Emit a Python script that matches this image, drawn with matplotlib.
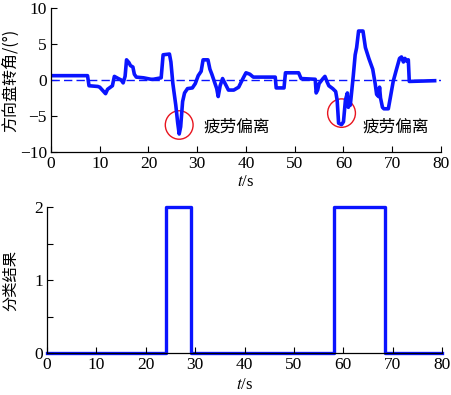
import matplotlib
matplotlib.use("Agg")
import matplotlib.pyplot as plt
from matplotlib.patches import Ellipse

# steering wheel angle trace
t_angle = [0, 7.5, 7.8, 9.6, 10.0, 10.8, 11.2, 11.6, 12.2, 12.6, 13.0, 13.8, 14.4, 14.8,
           15.2, 15.5, 16.0, 16.3, 16.8, 17.1, 17.5, 19.0, 20.5, 21.0, 22.6, 23.0, 24.3,
           24.6, 25.0, 25.6, 26.0, 26.3, 26.6, 27.0, 27.4, 28.0, 29.0, 29.6, 30.2, 30.8,
           31.2, 32.2, 32.6, 33.0, 33.6, 34.0, 34.3, 34.7, 35.2, 35.8, 36.4, 37.5, 38.5,
           39.3, 40.0, 40.8, 41.5, 42.5, 46.0, 46.2, 47.8, 48.1, 50.8, 51.3, 54.2, 54.4,
           54.7, 55.0, 55.8, 56.2, 56.6, 57.0, 57.8, 58.4, 58.7, 59.0, 59.6, 60.0, 60.4,
           60.8, 61.0, 61.2, 61.4, 61.7, 62.0, 62.4, 62.7, 63.1, 64.0, 64.5, 65.2, 66.0,
           66.5, 66.8, 67.2, 67.4, 67.6, 68.0, 68.3, 69.2, 69.6, 70.2, 70.8, 71.5, 71.9,
           72.3, 72.6, 73.0, 73.3, 73.5, 78.7]
angle = [0.6, 0.6, -0.8, -0.9, -1.0, -1.6, -1.9, -1.3, -1.0, -0.8, 0.5, 0.2, 0.0, -0.4,
         0.5, 2.8, 2.4, 2.0, 1.8, 0.8, 0.4, 0.3, 0.1, 0.1, 0.3, 3.5, 3.6,
         2.5, -0.5, -3.5, -6.0, -7.5, -6.5, -3.0, -1.8, -1.2, -1.1, -0.5, 0.6, 1.2,
         2.8, 2.8, 1.5, 0.8, -0.4, -1.2, -2.3, -0.8, 0.2, -0.6, -1.4, -1.4, -1.0,
         0.1, 1.0, 0.8, 0.4, 0.4, 0.4, -1.1, -1.1, 1.0, 1.0, 0.2, 0.1, -1.8,
         -1.4, -0.5, 0.2, 0.5, -0.2, -0.8, -1.2, -1.6, -2.8, -6.0, -6.2, -5.8, -2.8,
         -1.8, -3.8, -3.2, -3.5, -1.5, 0.5, 3.5, 4.5, 6.8, 6.8, 4.5, 3.0, 1.5,
         -0.5, -2.0, -2.3, -1.0, -2.5, -3.8, -4.0, -4.0, -2.5, -0.2, 1.3, 3.0, 3.2,
         2.5, 3.0, 2.6, 2.8, -0.2, -0.1]

# classification result (step signal)
t_class = [0, 24.0, 24.0, 29.1, 29.1, 58.1, 58.1, 68.5, 68.5, 80]
cls = [0, 0, 2, 2, 0, 0, 2, 2, 0, 0]

# marked fatigue deviations: circle centres and label positions
marks_t = [26.3, 59.6]
marks_v = [-6.25, -4.6]
label_t = [31.2, 64.0]
label_v = [-6.5, -6.6]
label_text = "疲劳偏离"

cjk = ["Noto Sans CJK SC", "DejaVu Sans"]
plt.rcParams["font.family"] = ["Liberation Serif", "DejaVu Serif"]
plt.rcParams["mathtext.fontset"] = "stix"
plt.rcParams["axes.unicode_minus"] = True

blue = "#0a14ff"
fig = plt.figure(figsize=(4.52, 3.95), dpi=100)
ax1 = fig.add_axes([0.1128, 0.6152, 0.8628, 0.3646])
ax2 = fig.add_axes([0.104, 0.1063, 0.874, 0.3696])

ax1.plot(t_angle, angle, color=blue, lw=2.6, solid_joinstyle="round")
ax1.axhline(0, color=blue, lw=1.0, dashes=(6, 3))
for cx, cy in zip(marks_t, marks_v):
    ax1.add_patch(Ellipse((cx, cy), 5.7, 3.95, fill=False, ec="#e8141e", lw=1.0))
for lx, ly in zip(label_t, label_v):
    ax1.text(lx, ly, label_text, fontsize=12, family=cjk, va="center", ha="left")
ax1.set_xlim(0, 80)
ax1.set_ylim(-10, 10)
ax1.set_yticks([-10, -5, 0, 5, 10])
ax1.set_xticks(range(0, 81, 10))
ax1.set_ylabel("方向盘转角/(°)", family=cjk, fontsize=11.5)
ax1.yaxis.set_label_coords(-0.083, 0.5)
ax1.set_xlabel("$t$/s", fontsize=12, labelpad=1)

ax2.plot(t_class, cls, color=blue, lw=2.4, clip_on=False, zorder=1.5)
ax2.set_xlim(0, 80)
ax2.set_ylim(0, 2)
ax2.set_yticks([0, 1, 2])
ax2.set_yticks([0.5, 1.5], minor=True)
ax2.set_xticks(range(0, 81, 10))
ax2.set_ylabel("分类结果", family=cjk, fontsize=11)
ax2.yaxis.set_label_coords(-0.071, 0.5)
ax2.set_xlabel("$t$/s", fontsize=12, labelpad=3)

for ax in (ax1, ax2):
    ax.spines["top"].set_visible(False)
    ax.spines["right"].set_visible(False)
    for s in ("left", "bottom"):
        ax.spines[s].set_zorder(3)
        ax.spines[s].set_linewidth(0.9)
    ax.tick_params(direction="in", length=4, width=0.8, labelsize=12.5, pad=3)
    ax.tick_params(which="minor", direction="in", length=4, width=0.8)

fig.savefig("out.png", dpi=100)
